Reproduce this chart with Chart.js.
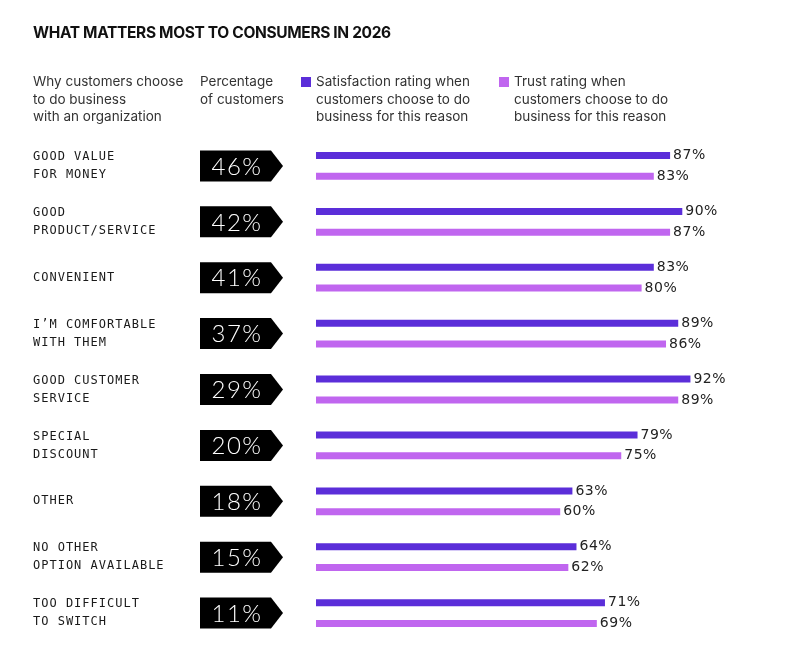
<!DOCTYPE html>
<html lang="en">
<head>
  <meta charset="UTF-8">
  <title>What matters most to consumers in 2026</title>
  <style>
    body {
      margin: 0;
      background: #fff;
      font-family: Inter, "Noto Sans", Arial, sans-serif;
    }
    .wrap {
      position: relative;
      width: 798px;
      height: 656px;
    }
    canvas {
      position: absolute;
      left: 0;
      top: 0;
    }
    h1 {
      position: absolute;
      left: 33px;
      top: 23px;
      margin: 0;
      font-size: 15.5px;
      font-weight: 700;
      letter-spacing: -0.35px;
      color: #111;
    }
    .head {
      position: absolute;
      top: 73px;
      font-size: 13.5px;
      line-height: 17.5px;
      color: #333;
    }
    .sw {
      position: absolute;
      left: -15px;
      top: 4px;
      width: 10px;
      height: 10px;
    }
  </style>
  <script src="https://cdn.jsdelivr.net/npm/chart.js"></script>
</head>
<body>
  <div class="wrap">
    <canvas id="chart" width="798" height="656"></canvas>
    <h1>WHAT MATTERS MOST TO CONSUMERS IN 2026</h1>
    <div class="head" style="left:33px">Why customers choose<br>to do business<br>with an organization</div>
    <div class="head" style="left:200px">Percentage<br>of customers</div>
    <div class="head" style="left:316px"><span class="sw" id="sw0"></span>Satisfaction rating when<br>customers choose to do<br>business for this reason</div>
    <div class="head" style="left:514px"><span class="sw" id="sw1"></span>Trust rating when<br>customers choose to do<br>business for this reason</div>
  </div>

  <script>
    const reasons = [
      ['GOOD VALUE', 'FOR MONEY'],
      ['GOOD', 'PRODUCT/SERVICE'],
      ['CONVENIENT'],
      ['I\u2019M COMFORTABLE', 'WITH THEM'],
      ['GOOD CUSTOMER', 'SERVICE'],
      ['SPECIAL', 'DISCOUNT'],
      ['OTHER'],
      ['NO OTHER', 'OPTION AVAILABLE'],
      ['TOO DIFFICULT', 'TO SWITCH']
    ];
    const customerShare = [46, 42, 41, 37, 29, 20, 18, 15, 11];
    const satisfaction = [87, 90, 83, 89, 92, 79, 63, 64, 71];
    const trust = [83, 87, 80, 86, 89, 75, 60, 62, 69];

    const satColor = '#5b2ed9';
    const trustColor = '#c066ef';
    document.getElementById('sw0').style.background = satColor;
    document.getElementById('sw1').style.background = trustColor;

    // left labels, black badges and value labels
    const extras = {
      id: 'extras',
      afterDatasetsDraw(chart) {
        const ctx = chart.ctx;
        const y = chart.scales.y;
        ctx.save();
        ctx.textBaseline = 'middle';

        reasons.forEach((lines, i) => {
          const cy = y.getPixelForValue(i);

          ctx.font = '12px "DejaVu Sans Mono"';
          ctx.letterSpacing = '1px';
          ctx.fillStyle = '#1a1a1a';
          ctx.textAlign = 'left';
          const off = lines.length === 2 ? -9 : 0;
          lines.forEach((t, k) => ctx.fillText(t, 33, cy + off + k * 18));

          // badge
          ctx.fillStyle = '#000';
          ctx.beginPath();
          ctx.moveTo(200, cy - 15.5);
          ctx.lineTo(271, cy - 15.5);
          ctx.lineTo(283, cy);
          ctx.lineTo(271, cy + 15.5);
          ctx.lineTo(200, cy + 15.5);
          ctx.closePath();
          ctx.fill();

          ctx.fillStyle = '#fff';
          ctx.font = '300 24px Lato';
          ctx.letterSpacing = '1.5px';
          ctx.textAlign = 'center';
          ctx.fillText(customerShare[i] + '%', 237, cy + 1);
        });

        ctx.font = '14px "DejaVu Sans"';
        ctx.letterSpacing = '0.5px';
        ctx.fillStyle = '#222';
        ctx.textAlign = 'left';
        chart.data.datasets.forEach((ds, d) => {
          chart.getDatasetMeta(d).data.forEach((bar, i) => {
            ctx.fillText(ds.data[i] + '%', bar.x + 3, bar.y);
          });
        });
        ctx.restore();
      }
    };

    new Chart(document.getElementById('chart'), {
      type: 'bar',
      data: {
        labels: reasons,
        datasets: [
          { label: 'Satisfaction', data: satisfaction, backgroundColor: satColor },
          { label: 'Trust', data: trust, backgroundColor: trustColor }
        ]
      },
      options: {
        indexAxis: 'y',
        responsive: false,
        animation: false,
        categoryPercentage: 0.744,
        barPercentage: 0.337,
        layout: { padding: { left: 316, right: 75, top: 138, bottom: 15 } },
        scales: {
          x: { display: false, min: 0, max: 100 },
          y: { display: false }
        },
        plugins: {
          legend: { display: false },
          tooltip: { enabled: false }
        }
      },
      plugins: [extras]
    });
  </script>
</body>
</html>
